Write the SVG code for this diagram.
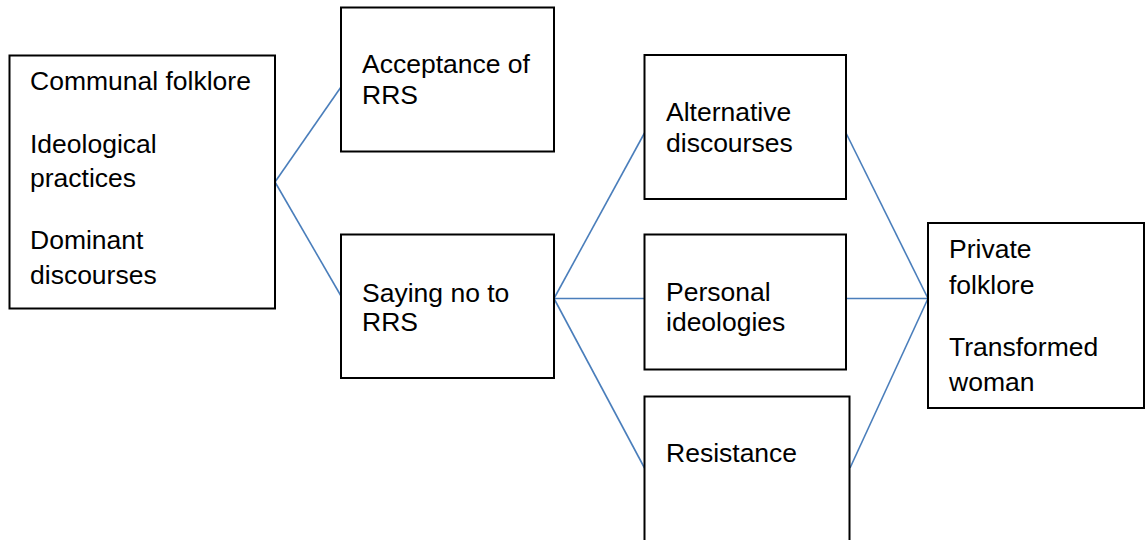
<svg xmlns="http://www.w3.org/2000/svg" width="1147" height="540" viewBox="0 0 1147 540">
  <style>
    .box { fill: #ffffff; stroke: #000000; stroke-width: 2; }
    .link { stroke: #4a7ebb; stroke-width: 1.6; fill: none; }
    text { font-family: "Liberation Sans", Arial, sans-serif; font-size: 26.5px; fill: #000000; }
  </style>
  <rect width="1147" height="540" fill="#ffffff"/>

  <!-- connectors -->
  <g id="connectors">
    <line class="link" x1="275" y1="182" x2="341" y2="87"/>
    <line class="link" x1="275" y1="182" x2="341" y2="296"/>
    <line class="link" x1="554" y1="298.5" x2="644.5" y2="133"/>
    <line class="link" x1="554" y1="298.5" x2="644.5" y2="298.5"/>
    <line class="link" x1="554" y1="298.5" x2="644.5" y2="468"/>
    <line class="link" x1="846" y1="133" x2="928" y2="298.5"/>
    <line class="link" x1="846" y1="298.5" x2="928" y2="298.5"/>
    <line class="link" x1="850" y1="468" x2="928" y2="298.5"/>
  </g>

  <g id="communal">
    <rect class="box" x="9.5" y="55.5" width="265.5" height="253"/>
    <text x="30" y="90">Communal folklore</text>
    <text x="30" y="153">Ideological</text>
    <text x="30" y="187">practices</text>
    <text x="30" y="249">Dominant</text>
    <text x="30" y="284">discourses</text>
  </g>

  <g id="acceptance">
    <rect class="box" x="341" y="7.5" width="213" height="144"/>
    <text x="362" y="73">Acceptance of</text>
    <text x="362" y="104">RRS</text>
  </g>

  <g id="saying-no">
    <rect class="box" x="341" y="234.5" width="213" height="143.5"/>
    <text x="362" y="301.5">Saying no to</text>
    <text x="362" y="331">RRS</text>
  </g>

  <g id="alternative">
    <rect class="box" x="644.5" y="55" width="201.5" height="144"/>
    <text x="666" y="120.5">Alternative</text>
    <text x="666" y="151.5">discourses</text>
  </g>

  <g id="personal">
    <rect class="box" x="644.5" y="234.5" width="201.5" height="135"/>
    <text x="666" y="300.5">Personal</text>
    <text x="666" y="331">ideologies</text>
  </g>

  <g id="resistance">
    <rect class="box" x="644.5" y="396.5" width="205" height="150"/>
    <text x="666" y="461.5">Resistance</text>
  </g>

  <g id="private">
    <rect class="box" x="928" y="223" width="216" height="185"/>
    <text x="949" y="258">Private</text>
    <text x="949" y="294">folklore</text>
    <text x="949" y="355.5">Transformed</text>
    <text x="949" y="390.5">woman</text>
  </g>
</svg>
